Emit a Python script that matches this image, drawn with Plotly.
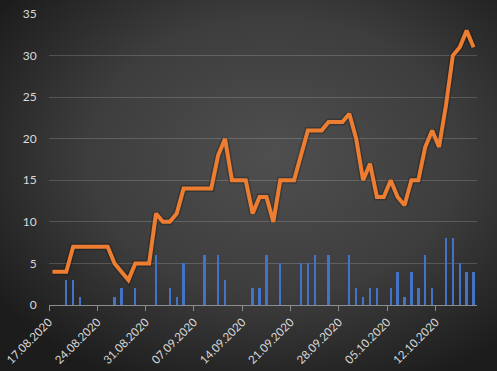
import base64
import pandas as pd
import plotly.graph_objects as go

# ---- data ----
start_date = "2020-08-17"
n_days = 62
line_values = [4, 4, 4, 7, 7, 7, 7, 7, 7, 5, 4, 3, 5, 5, 5, 11, 10, 10, 11, 14,
               14, 14, 14, 14, 18, 20, 15, 15, 15, 11, 13, 13, 10, 15, 15, 15, 18, 21, 21, 21,
               22, 22, 22, 23, 20, 15, 17, 13, 13, 15, 13, 12, 15, 15, 19, 21, 19, 24, 30, 31,
               33, 31]
bar_values = [0, 0, 3, 3, 1, 0, 0, 0, 0, 1, 2, 0, 2, 0, 0, 6, 0, 2, 1, 5,
              0, 0, 6, 0, 6, 3, 0, 0, 0, 2, 2, 6, 0, 5, 0, 0, 5, 5, 6, 0,
              6, 0, 0, 6, 2, 1, 2, 2, 0, 2, 4, 1, 4, 2, 6, 2, 0, 8, 8, 5,
              4, 4]
y_ticks = [0, 5, 10, 15, 20, 25, 30, 35]

days = pd.date_range(start_date, periods=n_days, freq="D")
centers = days + pd.Timedelta(hours=12)
x_end = days[-1] + pd.Timedelta(days=1)

W, H = 497, 371
ml, mr, mt, mb = 49, 20, 14, 66
pw, ph = W - ml - mr, H - mt - mb

svg = (
    f'<svg xmlns="http://www.w3.org/2000/svg" width="{W}" height="{H}" '
    f'viewBox="0 0 {W} {H}" preserveAspectRatio="none">'
    '<defs><radialGradient id="g" cx="55%" cy="42%" r="68%">'
    '<stop offset="0%" stop-color="#4f4f4f"/>'
    '<stop offset="55%" stop-color="#3d3d3d"/>'
    '<stop offset="100%" stop-color="#1c1c1c"/>'
    '</radialGradient></defs>'
    f'<rect x="0" y="0" width="{W}" height="{H}" fill="url(#g)"/></svg>'
)
uri = "data:image/svg+xml;base64," + base64.b64encode(svg.encode()).decode()

fig = go.Figure()
fig.add_trace(go.Bar(
    x=centers, y=bar_values,
    width=0.34 * 86400000,
    marker=dict(color="#4472C4", line=dict(width=0)),
))
fig.add_trace(go.Scatter(
    x=centers, y=line_values, mode="lines",
    line=dict(color="rgba(0,0,0,0.22)", width=7),
))
fig.add_trace(go.Scatter(
    x=centers, y=line_values, mode="lines",
    line=dict(color="#ED7D31", width=4),
))

fig.update_layout(
    width=W, height=H,
    margin=dict(l=ml, r=mr, t=mt, b=mb, autoexpand=False),
    paper_bgcolor="#1f1f1f",
    plot_bgcolor="rgba(0,0,0,0)",
    showlegend=False,
    bargap=0,
    font=dict(family="Lato, Liberation Sans, sans-serif", size=11, color="#d9d9d9"),
    images=[dict(
        source=uri, xref="paper", yref="paper",
        x=-ml / pw, y=1 + mt / ph,
        sizex=W / pw, sizey=H / ph,
        sizing="stretch", xanchor="left", yanchor="top",
        layer="below",
    )],
)
fig.update_xaxes(
    type="date", automargin=False,
    range=[days[0], x_end],
    tick0=days[0], dtick=7 * 86400000,
    tickformat="%d.%m.%Y",
    tickangle=-45,
    ticks="outside", ticklen=5, tickcolor="#8c8c8c",
    showline=True, linecolor="#8c8c8c", linewidth=1,
    showgrid=False, zeroline=False,
    tickfont=dict(size=11.5, color="#d9d9d9"),
)
fig.update_yaxes(
    automargin=False,
    range=[0, 35],
    tickvals=y_ticks,
    showgrid=True, gridcolor="rgba(255,255,255,0.17)", gridwidth=1,
    zeroline=False, showline=False,
    ticks="outside", ticklen=9, tickcolor="rgba(0,0,0,0)",
    tickfont=dict(size=12, color="#d9d9d9"),
)

fig.write_html(
    "out.html",
    config={"displayModeBar": False},
    post_script="document.body.style.margin='0';document.body.style.background='#1f1f1f';",
)
